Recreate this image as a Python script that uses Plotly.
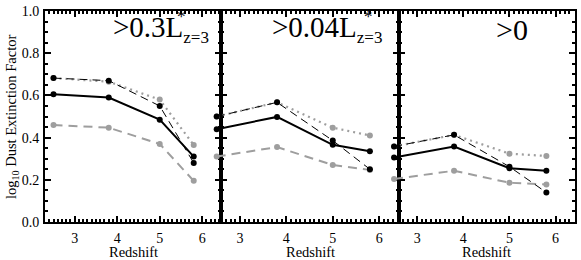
import plotly.graph_objects as go

redshift = [2.5, 3.8, 5.0, 5.8]

solid_black = [[0.605, 0.59, 0.485, 0.31],
               [0.44, 0.498, 0.366, 0.335],
               [0.306, 0.358, 0.255, 0.243]]
dashed_black = [[0.682, 0.67, 0.55, 0.28],
                [0.50, 0.567, 0.386, 0.25],
                [0.358, 0.413, 0.262, 0.14]]
dotted_gray = [[0.682, 0.665, 0.58, 0.365],
               [0.50, 0.567, 0.447, 0.41],
               [0.358, 0.413, 0.324, 0.313]]
dashed_gray = [[0.46, 0.447, 0.37, 0.195],
               [0.31, 0.355, 0.27, 0.247],
               [0.204, 0.243, 0.186, 0.178]]

x_ranges = [[2.3, 6.45], [2.6, 6.42], [2.6, 6.42]]
y_range = [0, 1]
y_ticks = [0.0, 0.2, 0.4, 0.6, 0.8, 1.0]
x_ticks = [3, 4, 5, 6]

GRAY = "#9e9e9e"
FONT = "Liberation Serif, Times New Roman, serif"

L, R, T, B = 45, 4, 5, 38
W, H = 581, 260
PW = W - L - R
PH = H - T - B
edges_px = [45, 222, 400, 577]
domains = [[(edges_px[i] - L) / PW, (edges_px[i + 1] - L) / PW] for i in range(3)]
domains[-1][1] = 1.0
EXT = 14  # hidden trace axes reach a little left so edge markers can show

fig = go.Figure()

series = [
    (dashed_gray, dict(color=GRAY, width=2, dash="9px,6px"), GRAY),
    (dotted_gray, dict(color=GRAY, width=2.2, dash="2px,4px"), GRAY),
    (dashed_black, dict(color="black", width=1, dash="8px,5px"), "black"),
    (solid_black, dict(color="black", width=2), "black"),
]

# empty traces so that every framed panel exists as a subplot
for p in (1, 2):
    fig.add_trace(go.Scatter(x=[None], y=[None], xaxis=f"x{p+1}", yaxis=f"y{p+1}",
                             showlegend=False, hoverinfo="skip", mode="markers"))

trace_axes = [("x", "y"), ("x4", "y4"), ("x5", "y5")]
for p in range(3):
    xa, ya = trace_axes[p]
    for data, line, mcol in series:
        fig.add_trace(go.Scatter(
            x=redshift, y=data[p], mode="lines+markers",
            line=line, marker=dict(color=mcol, size=6),
            xaxis=xa, yaxis=ya, showlegend=False, cliponaxis=False))

axis_common = dict(showline=True, linewidth=2, linecolor="black", mirror="ticks",
                   ticks="inside", tickcolor="black", showgrid=False, zeroline=False,
                   ticklabeloverflow="allow")

layout = dict(
    width=W, height=H,
    margin=dict(l=L, r=R, t=T, b=B),
    paper_bgcolor="white", plot_bgcolor="rgba(0,0,0,0)",
    font=dict(family=FONT, color="black"),
)
for p in range(3):
    xk = "xaxis" if p == 0 else f"xaxis{p+1}"
    yk = "yaxis" if p == 0 else f"yaxis{p+1}"
    layout[xk] = dict(axis_common, domain=domains[p], range=x_ranges[p],
                      tickvals=x_ticks, ticklen=6, tickwidth=1.5,
                      tickfont=dict(family=FONT, size=14, color="black"),
                      ticklabelstandoff=2,
                      minor=dict(dtick=0.1, ticklen=3, tickcolor="black", ticks="inside", tick0=0),
                      anchor="y" if p == 0 else f"y{p+1}")
    layout[yk] = dict(axis_common, range=y_range, tickvals=y_ticks, tickformat=".1f",
                      ticklen=6, tickwidth=1.5,
                      tickfont=dict(family=FONT, size=14, color="black"),
                      ticklabelstandoff=1,
                      minor=dict(dtick=0.05, ticklen=3, tickcolor="black", ticks="inside", tick0=0),
                      showticklabels=(p == 0),
                      anchor="x" if p == 0 else f"x{p+1}")

# hidden axes carrying the traces of panels 2 and 3: same scale, extended to the left
for p, xname, yname in [(1, "xaxis4", "yaxis4"), (2, "xaxis5", "yaxis5")]:
    d0, d1 = domains[p]
    lo, hi = x_ranges[p]
    ppu = (d1 - d0) * PW / (hi - lo)
    layout[xname] = dict(visible=False, domain=[d0 - EXT / PW, d1],
                         range=[lo - EXT / ppu, hi], anchor=f"y{p+3}",
                         showgrid=False, zeroline=False)
    layout[yname] = dict(visible=False, range=y_range, anchor=f"x{p+3}",
                         showgrid=False, zeroline=False)
fig.update_layout(**layout)

def px_x(px):
    return (px - L) / PW

def px_y(py):
    return (H - B - py) / PH

SUB = "<sub><span style='font-size:17px'>z=3</span></sub>"
ann = []
big = dict(family=FONT, size=29, color="black")
star = dict(family=FONT, size=17, color="black")
for text, x0, sx in [(">0.3L" + SUB, 111, 182), (">0.04L" + SUB, 271, 370)]:
    ann.append(dict(text=text, x=px_x(x0), y=px_y(23), xref="paper", yref="paper",
                    xanchor="left", yanchor="middle", showarrow=False, font=big))
    ann.append(dict(text="*", x=px_x(sx), y=px_y(11), xref="paper", yref="paper",
                    xanchor="center", yanchor="middle", showarrow=False, font=star))
ann.append(dict(text=">0", x=px_x(496), y=px_y(24), xref="paper", yref="paper",
                xanchor="left", yanchor="middle", showarrow=False,
                font=dict(family=FONT, size=30, color="black")))
for p in range(3):
    cx = (edges_px[p] + edges_px[p + 1]) / 2
    ann.append(dict(text="Redshift", x=px_x(cx), y=px_y(253), xref="paper", yref="paper",
                    xanchor="center", yanchor="middle", showarrow=False,
                    font=dict(family=FONT, size=14.5, color="black")))
ann.append(dict(text="log<sub>10</sub> Dust Extinction Factor", x=px_x(12), y=px_y(114),
                xref="paper", yref="paper", textangle=-90, showarrow=False,
                xanchor="center", yanchor="middle",
                font=dict(family=FONT, size=14.5, color="black")))
fig.update_layout(annotations=ann)

fig.write_html("out.html", config={"displayModeBar": False},
               post_script="document.body.style.margin='0px';")
